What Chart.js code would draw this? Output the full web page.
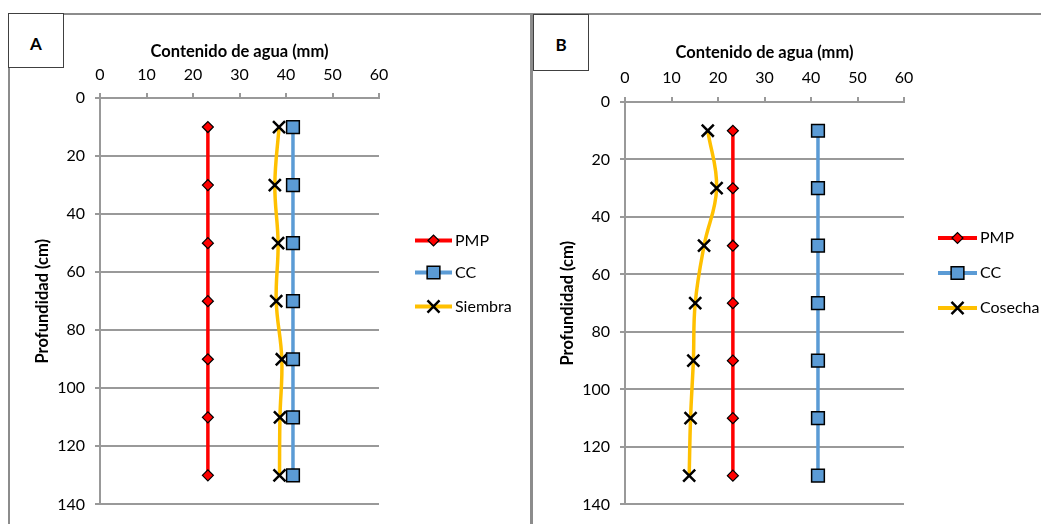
<!DOCTYPE html>
<html>
<head>
<meta charset="utf-8">
<script src="https://cdn.jsdelivr.net/npm/chart.js@4.4.1/dist/chart.umd.min.js"></script>
<style>
  html, body { margin: 0; padding: 0; background: #fff; }
  body { width: 1041px; height: 524px; position: relative; overflow: hidden; }
  canvas { position: absolute; top: 0; }
  .rule { position: absolute; background: #8c8c8c; }
  .tag {
    position: absolute; box-sizing: border-box; background: #fff;
    border: 1px solid #404040; font: bold 17px Lato, sans-serif; color: #000;
    display: flex; align-items: center; justify-content: center;
  }
</style>
</head>
<body>
<canvas id="chartA" width="530" height="524" style="left:0"></canvas>
<canvas id="chartB" width="508" height="524" style="left:533px"></canvas>

<div class="rule" style="left:8px; top:13px; width:1033px; height:2px"></div>
<div class="rule" style="left:8px; top:13px; width:2px; height:511px"></div>
<div class="rule" style="left:530px; top:13px; width:3px; height:511px"></div>
<div class="tag" style="left:8px; top:13px; width:56px; height:55px; padding-top:5px">A</div>
<div class="tag" style="left:533px; top:14px; width:56px; height:57px; padding-top:4px">B</div>

<script>
// depth of each reading (cm) and water content (mm)
const depths = [10, 30, 50, 70, 90, 110, 130];
const pmp = [23.2, 23.2, 23.2, 23.2, 23.2, 23.2, 23.2];
const cc = [41.5, 41.5, 41.5, 41.5, 41.5, 41.5, 41.5];
const siembra = [38.5, 37.6, 38.3, 37.9, 39.1, 38.7, 38.6];
const cosecha = [17.8, 19.7, 17.0, 15.1, 14.7, 14.1, 13.8];

const FONT = 'Lato, sans-serif';
const GRID = '#999999';

function pts(values) {
    return values.map((v, i) => ({ x: v, y: depths[i] }));
}

function makeSets(thirdLabel, thirdValues) {
    return [
        {
            label: 'PMP', data: pts(pmp),
            borderColor: '#ff0000', borderWidth: 3.5,
            pointStyle: 'rectRot', pointRadius: 5.5,
            pointBackgroundColor: '#ff0000', pointBorderColor: '#000', pointBorderWidth: 1.2
        },
        {
            label: 'CC', data: pts(cc),
            borderColor: '#5b9bd5', borderWidth: 3.5,
            pointStyle: 'rect', pointRadius: 9,
            pointBackgroundColor: '#5b9bd5', pointBorderColor: '#000', pointBorderWidth: 1.5
        },
        {
            label: thirdLabel, data: pts(thirdValues),
            borderColor: '#ffc000', borderWidth: 3.5, tension: 0.4,
            pointStyle: 'crossRot', pointRadius: 8.5,
            pointBackgroundColor: '#000', pointBorderColor: '#000', pointBorderWidth: 2.5
        }
    ];
}

// legend on the right: line sample + marker + label
const sideLegend = {
    id: 'sideLegend',
    afterDraw(chart, args, opts) {
        const ctx = chart.ctx;
        chart.data.datasets.forEach((ds, i) => {
            const y = opts.ys[i];
            ctx.save();
            ctx.strokeStyle = ds.borderColor;
            ctx.lineWidth = 4;
            ctx.beginPath();
            ctx.moveTo(opts.x, y);
            ctx.lineTo(opts.x + opts.len, y);
            ctx.stroke();
            ctx.fillStyle = ds.pointBackgroundColor;
            ctx.strokeStyle = ds.pointBorderColor;
            ctx.lineWidth = ds.pointBorderWidth;
            Chart.helpers.drawPoint(ctx, {
                pointStyle: ds.pointStyle, radius: ds.pointRadius, rotation: 0,
                borderWidth: ds.pointBorderWidth
            }, opts.x + opts.len / 2, y);
            ctx.fillStyle = '#000';
            ctx.font = '16px ' + FONT;
            ctx.textBaseline = 'middle';
            ctx.textAlign = 'left';
            ctx.fillText(ds.label, opts.x + opts.len + 3, y);
            ctx.restore();
        });
    }
};

function buildChart(id, thirdLabel, thirdValues, box) {
    return new Chart(document.getElementById(id), {
        type: 'scatter',
        data: { datasets: makeSets(thirdLabel, thirdValues) },
        plugins: [sideLegend],
        options: {
            responsive: false,
            animation: false,
            showLine: true,
            layout: { padding: { left: 0, top: 0, right: box.padRight, bottom: box.padBottom } },
            plugins: {
                legend: { display: false },
                tooltip: { enabled: false },
                sideLegend: box.legend
            },
            scales: {
                x: {
                    type: 'linear', position: 'top', min: 0, max: 60,
                    afterFit: s => { s.height = box.top; },
                    ticks: { stepSize: 10, padding: box.xTick, color: '#000', font: { family: FONT, size: 16 } },
                    grid: { drawOnChartArea: false, drawTicks: true, tickLength: 5, color: GRID, lineWidth: 2 },
                    border: { color: GRID, width: 2 },
                    title: {
                        display: true, text: 'Contenido de agua (mm)', color: '#000',
                        font: { family: FONT, size: 16.5, weight: 'bold' },
                        padding: { top: box.xTitle, bottom: 0 }
                    }
                },
                y: {
                    type: 'linear', position: 'left', reverse: true, min: 0, max: 140,
                    afterFit: s => { s.width = box.left; },
                    ticks: { stepSize: 20, padding: 10, color: '#000', font: { family: FONT, size: 16 } },
                    grid: { drawTicks: true, tickLength: 5, color: GRID, lineWidth: 2 },
                    border: { color: GRID, width: 2 },
                    title: {
                        display: true, text: 'Profundidad (cm)', color: '#000',
                        font: { family: FONT, size: 16.5, weight: 'bold' },
                        padding: { top: box.yTitle, bottom: 0 }
                    }
                }
            }
        }
    });
}

buildChart('chartA', 'Siembra', siembra, {
    left: 100, top: 98, padRight: 151, padBottom: 11, xTitle: 42, xTick: 8.5, yTitle: 33,
    legend: { x: 415, len: 37, ys: [240.5, 272.5, 306.5] }
});

buildChart('chartB', 'Cosecha', cosecha, {
    left: 92, top: 102, padRight: 137, padBottom: 12, xTitle: 43, xTick: 9.5, yTitle: 25,
    legend: { x: 405, len: 39, ys: [238, 273, 308] }
});
</script>
</body>
</html>
